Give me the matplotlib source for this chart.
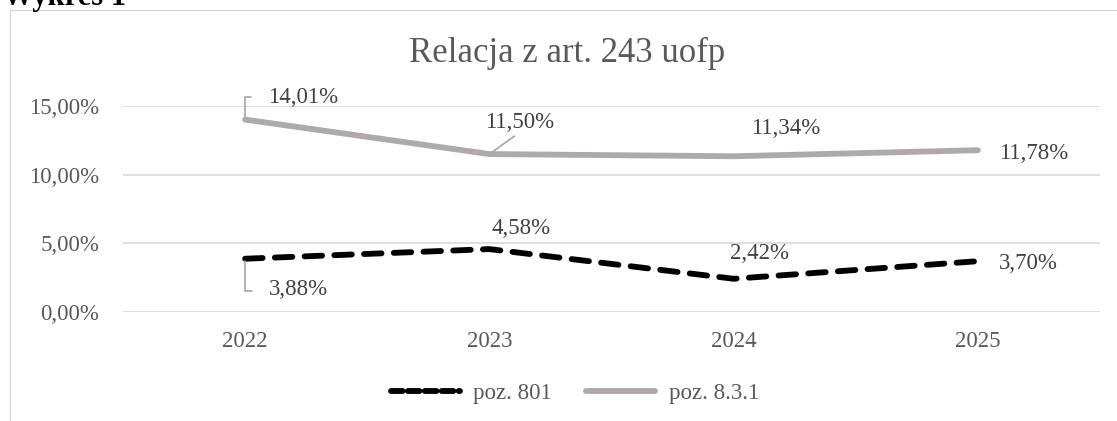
import matplotlib
matplotlib.use("Agg")
import matplotlib.pyplot as plt
from matplotlib.patches import Rectangle
from matplotlib.lines import Line2D

plt.rcParams['font.family'] = ['Liberation Serif', 'DejaVu Serif']

# ---- data ----
years = ["2022", "2023", "2024", "2025"]
poz_801 = [3.88, 4.58, 2.42, 3.70]
poz_831 = [14.01, 11.50, 11.34, 11.78]
y_ticks = [0, 5, 10, 15]
series_names = ["poz. 801", "poz. 8.3.1"]
title = "Relacja z art. 243 uofp"

# ---- label offsets in pixels (dx, dy) ----
off_801 = [(53, -31), (32, 21), (26, 25), (50, -2)]
off_831 = [(58, 22), (30, 32), (52, 28), (56, -3)]

W, H = 1117, 421
fig = plt.figure(figsize=(W / 100, H / 100), dpi=100)
fig.patch.set_facecolor("white")

# chart border
fig.patches.append(Rectangle((10 / W, -0.2), 2.0, 1.2 - 10 / H, transform=fig.transFigure,
                             fill=False, edgecolor="#d9d9d9", linewidth=1.0))

ax = fig.add_axes([123 / W, 1 - 312 / H, (1100 - 123) / W, (312 - 106) / H])
x = list(range(len(years)))

grey = "#aeaaaa"
txt = "#595959"
lab = "#404040"
lw = 4.2

ax.plot(x, poz_801, color="black", linewidth=lw, dashes=(3.0, 2.1),
        dash_capstyle="round", solid_capstyle="round", zorder=3)
ax.plot(x, poz_831, color=grey, linewidth=lw, solid_capstyle="round", zorder=3)

ax.set_xlim(-0.5, len(years) - 0.5)
ax.set_ylim(0, 15)
ax.set_yticks(y_ticks)
ax.set_yticklabels([f"{v:.2f}%".replace(".", ",") for v in y_ticks])
ax.set_xticks(x)
ax.set_xticklabels(years)
ax.tick_params(axis="y", length=0, pad=17, labelsize=16.5, labelcolor=txt)
ax.tick_params(axis="x", length=0, pad=14, labelsize=16.5, labelcolor=txt)
ax.grid(axis="y", color="#d9d9d9", linewidth=1.2)
ax.set_axisbelow(True)
for s in ax.spines.values():
    s.set_visible(False)


def fmt(v):
    return f"{v:.2f}%".replace(".", ",")


def label(i, v, off, leader=None):
    kw = {}
    if leader == "elbow_up":
        kw["arrowprops"] = dict(arrowstyle="-", color="#a6a6a6", lw=1.2,
                                connectionstyle="angle,angleA=0,angleB=90,rad=0",
                                shrinkA=10, shrinkB=2, relpos=(0, 0.55))
    elif leader == "elbow_down":
        kw["arrowprops"] = dict(arrowstyle="-", color="#a6a6a6", lw=1.2,
                                connectionstyle="angle,angleA=0,angleB=90,rad=0",
                                shrinkA=10, shrinkB=2, relpos=(0, 0.45))
    elif leader == "straight":
        kw["arrowprops"] = dict(arrowstyle="-", color="#a6a6a6", lw=1.2,
                                shrinkA=1, shrinkB=2, relpos=(0.5, 0))
    ax.annotate(fmt(v), xy=(i, v), xytext=off, textcoords="offset pixels",
                ha="center", va="center", fontsize=16.5, color=lab,
                annotation_clip=False, zorder=4, **kw)


leaders_801 = ["elbow_down", None, None, None]
leaders_831 = ["elbow_up", "straight", None, None]
for i, v in enumerate(poz_801):
    label(i, v, off_801[i], leaders_801[i])
for i, v in enumerate(poz_831):
    label(i, v, off_831[i], leaders_831[i])

# title
fig.text(567 / W, 1 - 53 / H, title, ha="center", va="center", fontsize=25, color=txt)

# "Wykres 1" heading (cut off at top, as in the source)
fig.text(3 / W, 1 - 5 / H, "Wykres 1", ha="left", va="baseline", fontsize=22,
         fontweight="bold", color="black")

# legend
handles = [Line2D([], [], color="black", linewidth=lw, dashes=(2.0, 0.9), dash_capstyle="round"),
           Line2D([], [], color=grey, linewidth=lw, solid_capstyle="round")]
leg = fig.legend(handles, series_names, loc="center", bbox_to_anchor=(575 / W, 1 - 393 / H),
                 ncol=2, frameon=False, fontsize=16.5, handlelength=3.0, handletextpad=0.6,
                 columnspacing=1.5, borderpad=0)
for t in leg.get_texts():
    t.set_color(txt)

fig.savefig("out.png", dpi=100)
